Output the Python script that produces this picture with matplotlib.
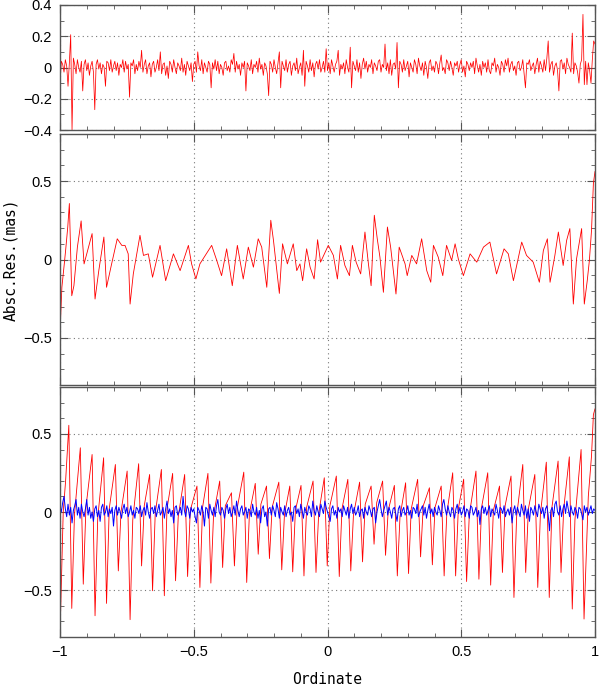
"""
Residuali po ordinati - tri panela (sum, korelisani sum, periodicni + korigovani).
"""

import numpy as np
import matplotlib
matplotlib.use('Agg')
import matplotlib.pyplot as plt
from matplotlib.ticker import MultipleLocator, FuncFormatter

# --- podaci (procitani sa slike) ---

# gornji panel: beli sum, uniformna mreza po ordinati, korak 0.005 (u 0.01 mas)
top_res = np.array([
    -11, 4, 2, -3, 5, 1, -12, 3, 21, -40, 6, 2, -4, 5, 0, -3, 4, -15, 2, 5,
    -2, 3, -5, 1, 4, -3, -27, 2, 5, -1, 3, -4, 2, 0, -12, 4, 3, -2, 5, -3,
    1, 4, -2, 3, -5, 2, 0, 5, -3, 4, -1, 2, -19, 3, 1, 5, -4, 2, -2, 4,
    0, 11, -3, 2, 5, -4, 1, 3, -6, 2, 4, -3, 0, 5, -2, 10, -4, 2, 3, -5,
    1, -7, 4, 2, -3, 5, 0, -4, 3, 1, -2, 6, -3, 2, -5, 4, 1, -2, 3, -9,
    2, 4, -3, 10, 1, -2, 5, -4, 3, 0, -3, 4, 2, -13, 3, -1, 5, -2, 4, -4,
    2, 0, -5, 3, 4, -2, 1, -3, 5, 2, 9, -3, 4, -1, 2, -5, 3, 0, 4, -15,
    3, 1, -2, 5, -4, 2, 0, 4, -3, 6, -1, 2, -5, 3, 1, -4, -18, 4, 2, -3,
    5, 0, -4, 3, 10, -13, 4, 1, -2, 5, -3, 2, 4, -5, 1, 3, -2, 6, -4, 0,
    3, -5, 11, -12, 4, 1, -3, 5, -2, 3, -6, 2, 4, -1, 5, -3, 0, 4, -3, 12,
    -2, 3, -4, 5, 1, -3, 2, 4, 11, -5, 2, -1, 3, -4, 5, 0, -3, 13, -13, 4,
    1, -2, 5, -3, 3, -7, 2, 6, -1, 4, -3, 2, 0, 5, -4, 3, 1, -2, 4, 5,
    -3, 2, 0, 15, -2, 3, -4, 5, -5, 2, 3, -1, 16, -13, 4, 2, -3, 5, -2, 1,
    4, -6, 3, 0, -3, 5, 2, -4, 6, 1, -2, 3, -5, 4, 0, -7, 3, 5, -2, 1,
    -3, 4, 2, -4, 3, 8, -2, 0, -4, 5, 3, -2, 4, 0, -5, 3, 1, 4, -3, 2,
    5, -3, 1, -6, 4, 2, -2, 3, 0, 4, -4, 6, 1, -3, 2, -5, 4, 0, 3, -3,
    5, -2, -4, 3, 1, 6, -3, 2, 0, -5, 4, 2, -3, 5, 1, 6, -3, 2, 4, -2,
    1, -5, 3, 4, -2, 0, 5, -4, -13, 3, 2, 5, -2, 1, 3, -4, 2, 6, -3, 4,
    1, -3, 5, -2, 6, 17, -3, 2, 4, -5, 1, 3, -2, -15, 4, 5, -1, 3, -4, 6,
    2, 0, -3, 22, -4, 3, 1, -3, -10, 2, 5, 34, -11, 4, -11, 3, -2, -10, 5, 17,
    15,
]) / 100.0

# srednji panel: korelisani sum (ordinata, rezidual)
mid_ord = [
    -1.000, -0.993, -0.984, -0.979, -0.971, -0.965, -0.956, -0.948, -0.935, -0.921,
    -0.910, -0.900, -0.880, -0.869, -0.855, -0.836, -0.826, -0.807, -0.786, -0.769,
    -0.757, -0.745, -0.738, -0.726, -0.701, -0.688, -0.670, -0.654, -0.626, -0.605,
    -0.576, -0.551, -0.520, -0.508, -0.492, -0.477, -0.433, -0.414, -0.396, -0.377,
    -0.356, -0.337, -0.315, -0.296, -0.277, -0.259, -0.246, -0.227, -0.212, -0.202,
    -0.180, -0.168, -0.150, -0.128, -0.115, -0.103,
    -0.093, -0.078, -0.065, -0.050, -0.037, -0.026, 0.003, 0.022, 0.037, 0.049,
    0.065, 0.082, 0.093, 0.107, 0.124, 0.140, 0.153, 0.163, 0.175, 0.186,
    0.196, 0.209, 0.224, 0.236, 0.256, 0.268, 0.290, 0.298, 0.315, 0.333,
    0.352, 0.371, 0.386, 0.396, 0.414, 0.431, 0.445, 0.464, 0.477, 0.489,
    0.508, 0.533, 0.558, 0.583, 0.607, 0.632, 0.660, 0.676, 0.695, 0.726,
    0.744, 0.769, 0.792, 0.807, 0.822, 0.832, 0.850, 0.863, 0.881, 0.894,
    0.906, 0.919, 0.931, 0.950, 0.960, 0.971, 0.979, 0.987, 0.994, 1.000,
]
mid_res = [
    -0.466, -0.177, -0.028, 0.058, 0.207, 0.357, -0.231, -0.167, 0.079, 0.246,
    -0.028, 0.036, 0.165, -0.252, -0.071, 0.143, -0.177, -0.028, 0.132, 0.090,
    0.090, 0.036, -0.284, -0.092, 0.154, 0.026, 0.036, -0.113, 0.090, -0.135,
    0.036, -0.071, 0.090, -0.028, -0.124, -0.028, 0.090, -0.006, -0.103, 0.068,
    -0.167, 0.090, -0.124, 0.079, -0.049, 0.132, 0.079, -0.177, 0.250, 0.122,
    -0.216, 0.100, -0.028, 0.100, -0.071, -0.028,
    -0.135, 0.068, -0.049, -0.124, 0.126, -0.017, 0.090, 0.026, -0.124, 0.090,
    -0.038, -0.103, 0.090, -0.017, -0.092, 0.175, -0.028, -0.167, 0.282, 0.132,
    0.015, -0.209, 0.207, 0.079, -0.220, 0.079, -0.028, -0.103, 0.026, -0.028,
    0.132, -0.071, -0.145, 0.090, 0.015, -0.103, 0.090, -0.006, 0.100, 0.004,
    -0.103, 0.036, -0.017, 0.079, 0.111, -0.092, 0.068, 0.036, -0.135, 0.111,
    0.026, -0.017, -0.145, 0.058, 0.132, -0.145, 0.026, 0.175, -0.038, 0.122,
    0.197, -0.284, 0.004, 0.197, -0.284, -0.135, -0.006, 0.186, 0.485, 0.560,
]

# donji panel, crveno: periodicni zubi (minimum, koleno, maksimum po ciklusu)
dip_ord = [
    -0.956, -0.913, -0.869, -0.826, -0.782, -0.738, -0.695, -0.654, -0.610, -0.568,
    -0.523, -0.477, -0.436, -0.392, -0.348, -0.302, -0.259, -0.217, -0.171, -0.130,
    -0.088, -0.043, -0.001, 0.044, 0.087, 0.131, 0.174, 0.217, 0.261, 0.303,
    0.348, 0.392, 0.436, 0.479, 0.520, 0.566, 0.610, 0.654, 0.697, 0.741,
    0.786, 0.829, 0.873, 0.915, 0.959,
]
dip_res = [
    -0.617, -0.462, -0.664, -0.585, -0.377, -0.689, -0.345, -0.504, -0.536, -0.440,
    -0.413, -0.483, -0.455, -0.355, -0.345, -0.451, -0.270, -0.298, -0.370, -0.383,
    -0.409, -0.387, -0.345, -0.413, -0.377, -0.319, -0.206, -0.277, -0.409, -0.394,
    -0.287, -0.338, -0.409, -0.409, -0.445, -0.430, -0.468, -0.387, -0.547, -0.387,
    -0.483, -0.547, -0.387, -0.621, -0.685,
]
knee_res = [
    -0.02, 0.03, -0.04, 0.02, 0.00, -0.05, 0.04, -0.01, 0.02, -0.03,
    0.01, 0.03, -0.02, 0.04, 0.02, -0.01, 0.05, 0.03, -0.02, 0.01,
    0.03, -0.01, 0.04, 0.02, -0.02, 0.05, 0.06, 0.01, -0.03, 0.02,
    0.04, 0.03, -0.01, 0.02, -0.02, 0.03, 0.01, 0.04, -0.03, 0.02,
    -0.01, 0.03, 0.02, -0.05, -0.10,
]
peak_res = [
    0.555, 0.411, 0.368, 0.347, 0.304, 0.262, 0.309, 0.240, 0.272, 0.247,
    0.240, 0.166, 0.247, 0.198, 0.123, 0.255, 0.183, 0.166, 0.191, 0.166,
    0.170, 0.198, 0.219, 0.230, 0.209, 0.191, 0.166, 0.198, 0.170, 0.187,
    0.209, 0.155, 0.166, 0.251, 0.210, 0.262, 0.251, 0.166, 0.230, 0.304,
    0.240, 0.319, 0.326, 0.353, 0.400,
]
red_start = [(-1.000, -0.79), (-0.988, 0.0), (-0.979, 0.20)]
red_end = [(0.975, 0.10), (0.987, 0.36), (0.994, 0.623), (1.000, 0.66)]

# donji panel, plavo: korigovani rezidual, korak 0.005 (u 0.01 mas)
blue_res = np.array([
    4, 0, 6, 10, 2, -3, 5, -2, 3, -7, 1, 4, 8, -2, 3, -4, 5, 0, -3, 2,
    8, -2, 3, -4, 0, -6, 2, 4, -3, 1, -6, 3, 5, -2, 0, 4, -3, 2, -1, 3,
    -9, 1, 4, -2, 3, 0, -4, 2, 5, -1, 3, -3, 0, 4, -2, 1, -4, 3, 2, -1,
    4, -3, 1, 3, -2, 6, 0, -4, 2, 3, -1, 4, -3, 1, 5, -2, 0, 3, -4, 2,
    7, -1, 2, -3, 1, -7, 3, 4, -2, 0, 3, -2, 10, 1, -3, 4, 2, -4, 3, 0,
    2, -3, -7, 3, 1, -2, 4, 0, -9, 3, 2, -4, 5, 1, -2, 3, -3, 4, 8, 0,
    -2, 3, 1, -4, 2, 5, -1, 3, -3, 0, 4, -2, 7, 1, -3, 2, 4, -2, 0, 3,
    -4, 2, 1, -3, 5, 0, -2, 3, -4, 1, -7, 2, 4, -3, 0, -9, 2, 3, -2, 4,
    1, -3, 6, 2, -4, 3, 0, -2, 4, -3, 1, 3, -2, 0, -6, 3, 4, -1, 2, -3,
    5, 1, -4, 3, 0, -2, 4, 2, -3, 7, 1, -2, 4, 0, -3, 5, 2, -1, 7, 3,
    0, -3, -6, 2, 4, -2, 1, -4, 3, 0, 2, -3, 4, 1, -2, 3, -4, 2, 5, -1,
    3, -2, 0, 4, -3, 1, 2, -4, 3, 0, -2, 4, 1, -3, 2, 3, -7, 0, 4, 8,
    2, -3, 1, 4, 7, -2, 3, 0, -4, 2, 3, -1, -6, 2, 4, -3, 1, 3, -2, 0,
    4, -2, 1, -4, 3, 2, -1, 5, -3, 0, 2, 4, -2, 3, -4, 1, 5, -1, 2, -3,
    3, 0, -2, 4, 1, -3, 5, 8, 2, -2, 4, 0, -3, 3, 1, -4, 2, 5, -1, 3,
    -2, 0, 4, -3, 2, 1, -4, 4, 3, -2, 0, 3, -3, 1, -8, 2, 4, -1, 3, -2,
    1, 4, -3, 2, 0, -2, 5, 1, -4, 3, 2, -1, 4, -3, 0, 2, -2, 3, -7, 1,
    4, -2, 3, 0, -3, 5, 1, -2, 4, -4, 2, -6, 3, 1, -2, 4, 0, -3, 5, 2,
    -1, 3, -4, 2, 4, -2, -12, 1, 3, -3, 5, 7, 0, -2, 4, -3, 2, 5, -1, 7,
    2, -3, 4, 0, -2, 3, 1, -4, 3, 2, -1, -5, 4, 0, 3, -2, 1, 4, -1, 2,
    1,
]) / 100.0


def minus_fmt(v, p):
    s = '%g' % round(v, 3)
    return s.replace('-', '\u2212')


def style_axes(ax, ymax, ymajor):
    ax.set_xlim(-1, 1)
    ax.set_ylim(-ymax, ymax)
    ax.xaxis.set_major_locator(MultipleLocator(0.5))
    ax.xaxis.set_minor_locator(MultipleLocator(0.1))
    ax.yaxis.set_major_locator(MultipleLocator(ymajor))
    ax.yaxis.set_minor_locator(MultipleLocator(0.1))
    ax.tick_params(which='both', direction='in', top=True, right=True,
                   color='#555555', labelsize=10.5, pad=6)
    ax.tick_params(which='major', length=6, width=0.8)
    ax.tick_params(which='minor', length=3, width=0.6)
    for sp in ax.spines.values():
        sp.set_color('#555555')
        sp.set_linewidth(1.0)
    ax.grid(True, which='major', linestyle=(0, (1, 3)), color='#777777', linewidth=0.8)
    ax.yaxis.set_major_formatter(FuncFormatter(minus_fmt))


plt.rcParams['font.family'] = ['Liberation Sans', 'DejaVu Sans']

fig = plt.figure(figsize=(5.99, 6.89), dpi=100)
W = 599.0
H = 689.0
ax1 = fig.add_axes([60 / W, 1 - 130 / H, 535 / W, 125 / H])
ax2 = fig.add_axes([60 / W, 1 - 385 / H, 535 / W, 251 / H])
ax3 = fig.add_axes([60 / W, 1 - 637 / H, 535 / W, 250 / H])

# gornji
x_top = np.linspace(-1, 1, len(top_res))
ax1.plot(x_top, top_res, color='red', linewidth=0.55)
style_axes(ax1, 0.4, 0.2)
ax1.set_xticklabels([])

# srednji
ax2.plot(mid_ord, mid_res, color='red', linewidth=0.6)
style_axes(ax2, 0.8, 0.5)
ax2.set_xticklabels([])
fig.text(11 / W, 1 - 259.5 / H, 'Absc.Res.(mas)', family='DejaVu Sans Mono',
         fontsize=10.5, rotation=90, ha='center', va='center')

# donji: crveni zubi
red_x = [p[0] for p in red_start]
red_y = [p[1] for p in red_start]
for i, (xd, yd, yk, yp) in enumerate(zip(dip_ord, dip_res, knee_res, peak_res)):
    red_x += [xd - 0.011, xd]
    red_y += [yp, yd]
    if i < len(dip_ord) - 1:
        red_x.append(xd + 0.010)
        red_y.append(yk)
red_x += [p[0] for p in red_end]
red_y += [p[1] for p in red_end]
ax3.plot(red_x, red_y, color='red', linewidth=0.6)

x_blue = np.linspace(-1, 1, len(blue_res))
ax3.plot(x_blue, blue_res, color='blue', linewidth=0.7)
style_axes(ax3, 0.8, 0.5)
ax3.xaxis.set_major_formatter(FuncFormatter(minus_fmt))
ax3.set_xlabel('Ordinate', family='DejaVu Sans Mono', fontsize=10.5, labelpad=9)

fig.savefig('out.png', dpi=100)
plt.close(fig)
